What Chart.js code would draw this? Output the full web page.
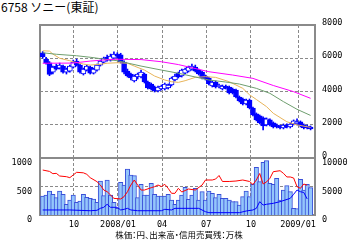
<!DOCTYPE html>
<html><head><meta charset="utf-8">
<script src="https://cdn.jsdelivr.net/npm/chart.js@4.4.1/dist/chart.umd.min.js"></script>
<style>
html,body{margin:0;padding:0;background:#fff;width:355px;height:240px;overflow:hidden;}
#wrap{position:relative;width:355px;height:240px;}
canvas{position:absolute;left:0;}
#title{position:absolute;left:1px;top:0px;font-family:"Noto Sans CJK JP";font-size:12px;line-height:14px;color:#000;white-space:nowrap;}
#foot{position:absolute;left:0;width:358px;top:229px;text-align:center;font-family:"Noto Sans CJK JP";font-size:8.5px;line-height:10px;font-feature-settings:"palt";color:#000;white-space:nowrap;}
</style></head><body>
<div id="wrap">
<div id="title">6758 ソニー(東証)</div>
<canvas id="price" width="355" height="160" style="top:0;width:355px;height:160px"></canvas>
<canvas id="vol" width="355" height="90" style="top:150px;width:355px;height:90px"></canvas>
<div id="foot">株価：円、出来高・信用売買残：万株</div>
</div>
<script>
// ---- weekly candles (yen) ----
const open  = [6330,5950,5730,5170,5530,5410,5530,5170,5230,5470,5830,5590,5050,5290,5470,5110,5290,5590,5770,6070,5890,6010,6250,6200,5770,5230,5050,4630,4870,4870,5050,4570,4450,4270,4030,4150,4150,4210,4390,4690,5110,4930,5110,5230,5350,5470,5290,5170,4930,4810,4330,4570,4270,4150,4330,4270,4150,4090,3670,3550,3250,3490,3010,2650,2530,2410,1985,2290,2110,1985,1925,1805,1985,1865,2045,2050,2170,1985,1925,1865];
const high  = [6400,6050,5800,5530,5650,5710,5590,5410,5590,5890,5950,5650,5410,5590,5530,5410,5650,5890,6070,6190,6250,6390,6330,6300,5850,5350,5110,5000,5110,5290,5110,4630,4510,4330,4330,4390,4510,4450,4870,5050,5170,5350,5410,5530,5650,5590,5350,5230,4990,4870,4630,4630,4450,4390,4390,4330,4210,4150,3730,3610,3550,3550,3070,2710,2590,2470,2410,2350,2170,2050,1985,2050,2050,2110,2290,2350,2230,2050,1985,1925];
const low   = [6000,5650,4950,5050,5290,5350,5110,5050,5170,5410,5530,5110,4990,5230,5050,5050,5230,5530,5710,5830,5830,5950,6010,5710,5050,4870,4690,4570,4750,4810,4510,4150,4090,3970,3970,4090,4090,4150,4330,4630,4810,4870,5050,5170,5290,5170,4990,4750,4690,4390,4270,4210,4210,4090,4150,3850,3850,3610,3370,3190,3190,2950,2530,2230,2050,1690,1925,1925,1805,1805,1750,1750,1805,1805,1985,1985,1865,1750,1750,1690];
const close = [6090,5710,5030,5470,5350,5590,5170,5350,5530,5770,5590,5170,5350,5530,5110,5350,5590,5830,6010,5890,6130,6250,6130,5770,5170,4930,4810,4930,5050,5170,4570,4210,4150,4030,4270,4330,4450,4390,4810,4930,4870,5290,5350,5470,5530,5230,5050,4810,4750,4450,4570,4270,4390,4330,4210,3910,3910,3670,3430,3250,3490,3010,2590,2290,2110,1925,2350,1985,1865,1865,1805,1985,1865,2045,2230,2170,1925,1805,1805,1745];
// ---- weekly volume (万株) ----
const volume = [3330,3510,4210,3620,3040,4210,3620,1870,2630,3510,2220,2460,3620,3100,2920,2810,2220,5960,3390,6140,3510,2220,1170,5730,5260,8070,7020,6900,3040,5380,3510,3510,5550,3620,3330,3330,3330,3620,2630,1870,2630,3510,4860,2750,3510,4680,2630,4090,2630,4210,3800,3040,3620,2920,2920,2630,2340,2340,1750,3220,4210,3220,5380,8370,5850,9240,9530,5550,5380,6430,2630,4390,5150,4090,1170,1110,6260,4390,5380,4800];
// ---- moving averages (sampled at week index) ----
const ma13Week = [0,2,3,5,8,9,12,14,17,19,22,25,27,30,33,36,38,40,42,45,48,51,55,59,61,63,66,68,72,75,78,79];
const ma13     = [6450,6430,6250,6000,5850,5790,5650,5590,5640,5700,5730,5700,5530,5290,4930,4690,4590,4550,4650,4850,4890,4850,4590,4190,3800,3520,3090,2690,2180,1990,1880,1840];
const ma26Week = [0,4,10,14,18,22,29,35,40,49,54,58,63,67,71,75,79];
const ma26     = [6330,6240,6150,6060,5950,5850,5530,5290,5100,4690,4570,4450,4190,3890,3390,2930,2560];
const ma52Week = [0,9,14,21,29,35,40,49,56,62,68,74,79];
const ma52     = [5700,5710,5830,5940,5920,5790,5620,5190,4990,4790,4360,3990,3590];
// ---- margin balances (万株) ----
const sellWeek = [0,2,3,4,5,7,8,9,10,12,13,14,16,17,18,19,20,21,23,24,25,26,27,28,29,30,32,33,34,35,36,37,38,39,40,41,43,45,47,48,50,51,52,53,55,57,59,61,62,63,64,65,66,67,68,70,71,72,73,74,75,76,77,78];
const sellBal  = [789,765,725,731,684,672,655,702,749,740,714,655,585,526,438,409,351,292,281,322,409,526,614,526,438,438,479,497,526,500,538,468,380,380,468,403,456,438,526,614,614,631,693,588,588,596,614,588,535,614,728,544,579,643,760,777,731,667,667,649,497,468,544,521];
const buyWeek  = [0,8,14,16,17,18,19,20,22,23,24,25,26,28,35,36,38,39,46,48,49,58,60,62,63,64,65,66,68,70,73,74,75,76,77,78];
const buyBal   = [88,88,75,82,117,135,188,135,135,88,100,117,88,75,75,100,88,117,117,58,41,41,70,88,117,234,175,188,205,234,292,363,438,409,395,281];
// ---- axis ticks ----
const monthTickWeeks = [9.2,22.2,35.2,48.2,61.4,75.3];
const monthLabels = ['10','2008/01','04','07','10','2009/01'];
const priceTicks = [0,2000,4000,6000,8000];
const sellTicks = [0,500,1000];
const volTicks = [0,5000,10000];

const weekIndex = close.map((_, i) => i);
const pts = (xs, ys) => xs.map((x, k) => ({x: x, y: ys[k]}));

const GRID = '#8a8a8a';
const tickFont = {family: 'DejaVu Sans Mono', size: 8.5};
const frame = {
  id: 'frame',
  beforeDatasetsDraw(chart) {
    const {ctx, chartArea: a} = chart;
    ctx.save();
    ctx.strokeStyle = GRID; ctx.lineWidth = 2;
    ctx.strokeRect(a.left, a.top, a.right - a.left, a.bottom - a.top);
    ctx.restore();
  }
};
const monthAxis = (showLabels) => ({
  type: 'linear', min: -0.8, max: 80.3, offset: false,
  grid: {color: GRID, lineWidth: 1, drawTicks: false, offset: false},
  border: {display: false, dash: [3, 2]},
  ticks: showLabels ? {autoSkip: false, maxRotation: 0, padding: 5, color: '#000', font: tickFont,
          callback: (v, i) => monthLabels[i]} : {display: false},
  afterBuildTicks: s => { s.ticks = monthTickWeeks.map(v => ({value: v})); },
  afterFit: s => { s.height = showLabels ? 25 : 0; s.paddingLeft = 0; s.paddingRight = 0; }
});
const valueAxis = (pos, min, max, tickVals, grid, labelOffset, padding) => ({
  position: pos, min: min, max: max,
  grid: grid ? {color: GRID, lineWidth: 1, drawTicks: false} : {display: false, drawTicks: false},
  border: {display: false, dash: [3, 2]},
  ticks: {padding: padding, labelOffset: labelOffset, color: '#000', font: tickFont, autoSkip: false,
          callback: v => String(v)},
  afterBuildTicks: s => { s.ticks = tickVals.map(v => ({value: v})); },
  afterFit: s => { s.width = 40; s.paddingTop = 0; s.paddingBottom = 0; }
});
const common = {
  responsive: false, animation: false, devicePixelRatio: 1, events: [],
  plugins: {legend: {display: false}, tooltip: {enabled: false}}
};

new Chart(document.getElementById('price'), {
  type: 'bar',
  data: {datasets: [
    {type: 'bar', data: weekIndex.map(i => ({x: i, y: [low[i], high[i]]})), backgroundColor: '#0000ff',
     borderWidth: 0, barThickness: 1, grouped: false, order: 10},
    {type: 'bar', data: weekIndex.map(i => ({x: i, y: [open[i], close[i]]})),
     backgroundColor: weekIndex.map(i => close[i] >= open[i] ? '#ffffff' : '#0000ff'),
     borderColor: '#0000ff', borderWidth: 1, borderSkipped: false, barThickness: 5, grouped: false, order: 9},
    {type: 'line', data: pts(ma13Week, ma13), borderColor: '#e8b45a', borderWidth: 1, pointRadius: 0, tension: 0, order: 3},
    {type: 'line', data: pts(ma26Week, ma26), borderColor: '#6e9e6e', borderWidth: 1, pointRadius: 0, tension: 0, order: 2},
    {type: 'line', data: pts(ma52Week, ma52), borderColor: '#ff00ff', borderWidth: 1, pointRadius: 0, tension: 0, order: 1}
  ]},
  options: Object.assign({}, common, {
    layout: {padding: {left: 40, top: 25, right: 0, bottom: 2}},
    scales: {
      x: monthAxis(false),
      y: valueAxis('right', 0, 8000, priceTicks, true, -2, 7)
    }
  }),
  plugins: [frame]
});

new Chart(document.getElementById('vol'), {
  type: 'bar',
  data: {datasets: [
    {type: 'bar', yAxisID: 'yR', data: weekIndex.map(i => ({x: i, y: volume[i]})),
     backgroundColor: '#94c6fb', borderColor: '#3a4fd8', borderWidth: 1, borderSkipped: 'start',
     barThickness: 4.4, grouped: false, order: 5},
    {type: 'line', yAxisID: 'yL', data: pts(sellWeek, sellBal), borderColor: '#ff0000', borderWidth: 1, pointRadius: 0, tension: 0, order: 2},
    {type: 'line', yAxisID: 'yL', data: pts(buyWeek, buyBal), borderColor: '#0000ff', borderWidth: 1, pointRadius: 0, tension: 0, order: 1}
  ]},
  options: Object.assign({}, common, {
    layout: {padding: {left: 0, top: 8, right: 0, bottom: 0}},
    scales: {
      x: monthAxis(true),
      yL: valueAxis('left', 0, 1000, sellTicks, true, 5, 8),
      yR: valueAxis('right', 0, 10000, volTicks, false, 5, 7)
    }
  }),
  plugins: [frame]
});
</script>
</body></html>
